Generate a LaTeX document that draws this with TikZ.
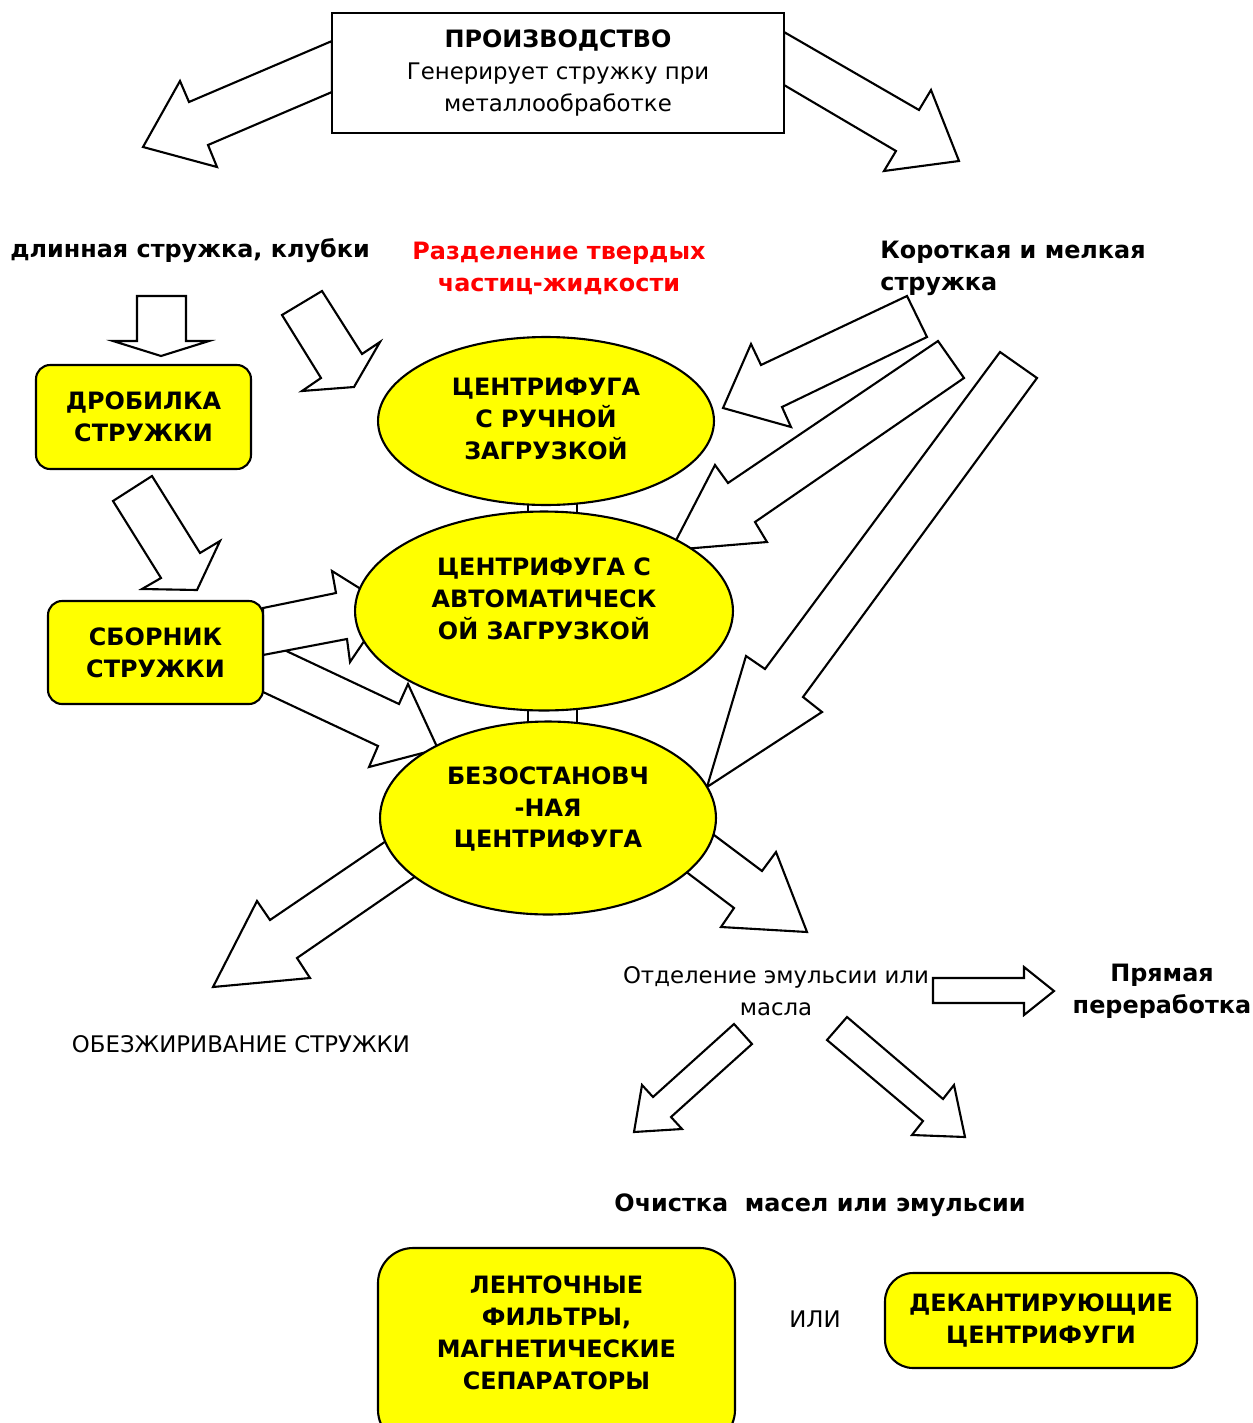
\documentclass[tikz,border=0pt]{standalone}
\usepackage{fontspec}
\setmainfont{DejaVu Sans}
\usetikzlibrary{shapes.geometric}
\definecolor{chipyellow}{RGB}{255,255,0}
\definecolor{sepred}{RGB}{255,0,0}
\newcommand{\boldlbl}{\bfseries\fontsize{13.6pt}{18.2pt}\selectfont}
\tikzset{
  yellow box/.style={
    fill=chipyellow,
    draw=black,
    line width=1.2pt,
    rounded corners=#1,
    align=center,
    font=\boldlbl,
  },
  yellow box/.default=8pt,
  yellow oval/.style={
    ellipse,
    fill=chipyellow,
    draw=black,
    line width=1.2pt,
    inner sep=0pt,
  },
  oval text/.style={
    align=center,
    font=\boldlbl,
    inner sep=0pt,
  },
  block arrow/.style={
    fill=white,
    draw=black,
    line width=1.2pt,
  },
  caption/.style={
    align=center,
    inner sep=0pt,
  },
}

\begin{document}
\fontsize{13pt}{18.2pt}\selectfont
\begin{tikzpicture}[x=0.02cm, y=-0.02cm]
        \useasboundingbox (0,0) rectangle (1253,1423);
        \clip (0,0) rectangle (1253,1423);

        % arrows out of production
        \draw [block arrow] (332,41) -- (189,102) -- (180,81) -- (143,147) -- (217,167) -- (208,145) -- (332,92) -- cycle;
        \draw [block arrow] (784,32) -- (919,110) -- (931,90) -- (959,161) -- (884,171) -- (896,151) -- (784,85) -- cycle;

        % left column
        \draw [block arrow] (137,296) -- (186,296) -- (186,341) -- (209,341) -- (161,356) -- (113,341) -- (137,341) -- cycle;
        \draw [block arrow] (322,291) -- (362,354) -- (380,342) -- (354,387) -- (302,391) -- (321,378) -- (282,315) -- cycle;
        \draw [block arrow] (152,476) -- (200,553) -- (220,541) -- (197,590) -- (142,589) -- (161,578) -- (113,501) -- cycle;
        \draw [block arrow] (263,640) -- (399,704) -- (408,684) -- (438,749) -- (369,767) -- (378,746) -- (263,692) -- cycle;
        \draw [block arrow] (263,608) -- (336,593) -- (332,571) -- (388,606) -- (350,662) -- (347,639) -- (263,655) -- cycle;

        % short chips
        \draw [block arrow] (907,296) -- (761,365) -- (751,344) -- (723,408) -- (791,427) -- (782,407) -- (927,337) -- cycle;
        \draw [block arrow] (938,341) -- (728,483) -- (715,465) -- (671,550) -- (767,542) -- (755,522) -- (964,378) -- cycle;
        \draw [block arrow] (1000,352) -- (765,669) -- (746,656) -- (707,787) -- (822,712) -- (803,697) -- (1037,378) -- cycle;

        % out of the nonstop centrifuge
        \draw [block arrow] (417,820) -- (270,920) -- (257,901) -- (213,987) -- (310,978) -- (297,958) -- (448,854) -- cycle;
        \draw [block arrow] (674,805) -- (762,871) -- (776,852) -- (807,932) -- (721,927) -- (734,908) -- (648,843) -- cycle;

        % emulsion
        \draw [block arrow] (933,978) -- (1024,978) -- (1024,967) -- (1054,991) -- (1024,1015) -- (1024,1003) -- (933,1003) -- cycle;
        \draw [block arrow] (734,1024) -- (653,1097) -- (642,1085) -- (634,1132) -- (682,1129) -- (671,1117) -- (752,1044) -- cycle;
        \draw [block arrow] (847,1017) -- (943,1099) -- (954,1085) -- (965,1137) -- (912,1135) -- (923,1121) -- (827,1040) -- cycle;

        % links between centrifuges
        \draw [line width=1.2pt] (528,490) rectangle (577,530);
        \draw [line width=1.2pt] (528,695) rectangle (577,740);

        \node [draw=black, fill=white, line width=1.2pt, align=center, minimum width=9.04cm, minimum height=2.4cm] (prod) at (558,73)
          {{\boldlbl ПРОИЗВОДСТВО}\\Генерирует стружку при\\металлообработке};

        \node [yellow box, minimum width=4.3cm, minimum height=2.08cm] (drob) at (143.5,417) {ДРОБИЛКА\\СТРУЖКИ};
        \node [yellow box, minimum width=4.3cm, minimum height=2.06cm] (sborn) at (155.5,652.5) {СБОРНИК\\СТРУЖКИ};

        \node [yellow oval, minimum width=6.72cm, minimum height=3.36cm] (cman) at (546,421) {};
        \node [yellow oval, minimum width=7.56cm, minimum height=3.98cm] (cauto) at (544,611) {};
        \node [yellow oval, minimum width=6.72cm, minimum height=3.86cm] (cflow) at (548,818) {};
        \node [oval text] (cmanlbl) at (546,419) {ЦЕНТРИФУГА\\С РУЧНОЙ\\ЗАГРУЗКОЙ};
        \node [oval text] (cautolbl) at (544,599) {ЦЕНТРИФУГА С\\АВТОМАТИЧЕСК\\ОЙ ЗАГРУЗКОЙ};
        \node [oval text] (cflowlbl) at (548,809) {БЕЗОСТАНОВЧ\\-НАЯ\\ЦЕНТРИФУГА};

        \draw [yellow box=20pt] (378,1248) rectangle (735,1445);
        \node [oval text] (lent) at (556.5,1333) {ЛЕНТОЧНЫЕ\\ФИЛЬТРЫ,\\МАГНЕТИЧЕСКИЕ\\СЕПАРАТОРЫ};
        \node [yellow box=16pt, minimum width=6.24cm, minimum height=1.9cm] (dekant) at (1041,1320.5) {ДЕКАНТИРУЮЩИЕ\\ЦЕНТРИФУГИ};

        \node [caption, font=\boldlbl] (tlong) at (190,251) {длинная стружка, клубки};
        \node [caption, font=\boldlbl, text=sepred] (tsep) at (559,268) {Разделение твердых\\частиц-жидкости};
        \node [caption, font=\boldlbl, align=left, anchor=west] (tshort) at (880,268) {Короткая и мелкая\\стружка};
        \node [caption] (tsplit) at (776,991) {Отделение эмульсии или\\масла};
        \node [caption, font=\boldlbl] (tdirect) at (1162,991) {Прямая\\переработка};
        \node [caption] (tdegrease) at (241,1044) {ОБЕЗЖИРИВАНИЕ СТРУЖКИ};
        \node [caption, font=\boldlbl] (tclean) at (820,1205) {Очистка\ \ масел или эмульсии};
        \node [caption] (tor) at (815,1319) {ИЛИ};
      \end{tikzpicture}
\end{document}
